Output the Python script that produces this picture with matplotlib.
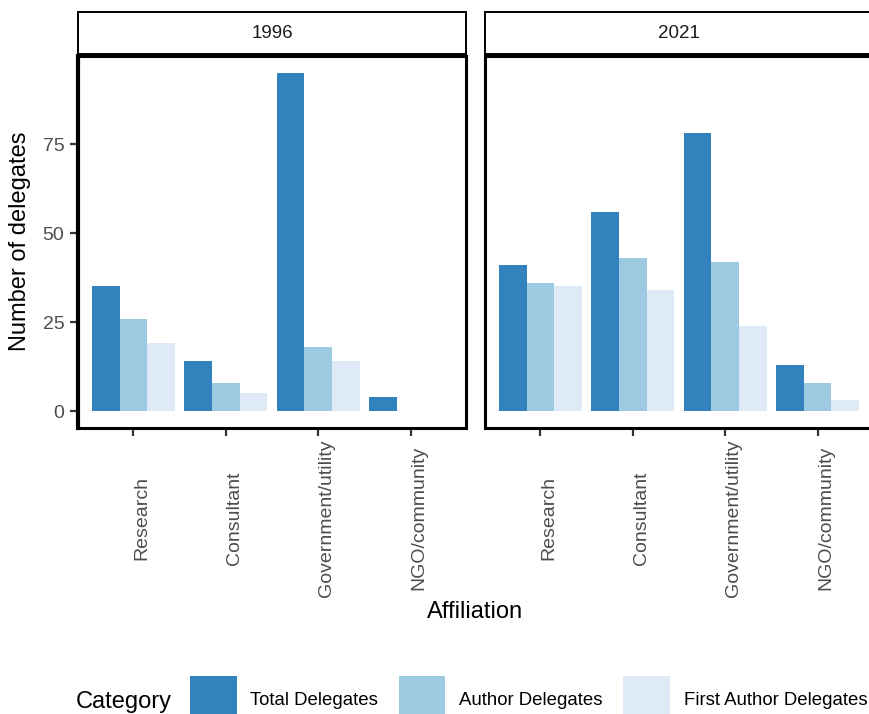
import numpy as np
import matplotlib
matplotlib.use("Agg")
import matplotlib.pyplot as plt

plt.rcParams['font.family'] = ['Liberation Sans', 'DejaVu Sans']

years = ['1996', '2021']
affiliations = ['Research', 'Consultant', 'Government/utility', 'NGO/community']
categories = ['Total Delegates', 'Author Delegates', 'First Author Delegates']
colors = ['#3182BD', '#9ECAE1', '#DEEBF7']

# values per year, per category, per affiliation
total_1996 = [35, 14, 95, 4]
author_1996 = [26, 8, 18, 0]
first_1996 = [19, 5, 14, 0]
total_2021 = [41, 56, 78, 13]
author_2021 = [36, 43, 42, 8]
first_2021 = [35, 34, 24, 3]

data = {
    '1996': [total_1996, author_1996, first_1996],
    '2021': [total_2021, author_2021, first_2021],
}

W, H = 870, 714
fig = plt.figure(figsize=(W / 100, H / 100), dpi=100)


def px(l, t, r, b):
    return [l / W, 1 - b / H, (r - l) / W, (b - t) / H]


panels = [(78, 466), (485, 873)]
x = np.arange(1, len(affiliations) + 1)
bw = 0.3

for i, (yr, (l, r)) in enumerate(zip(years, panels)):
    ax = fig.add_axes(px(l, 56, r, 428))
    for j, (cat, vals) in enumerate(zip(categories, data[yr])):
        ax.bar(x + (j - 1) * bw, vals, width=bw, color=colors[j], label=cat)
    ax.set_xlim(0.4, 4.6)
    ax.set_ylim(-4.75, 99.75)
    for s in ax.spines.values():
        s.set_linewidth(2.2)
        s.set_color('black')
    ax.set_xticks(x)
    ax.set_xticklabels(affiliations, rotation=90, ha='left', va='center')
    ax.tick_params(axis='x', length=5.8, width=1.6, color='#333333',
                   labelcolor='#4D4D4D', labelsize=14, pad=59)
    if i == 0:
        ax.spines['left'].set_linewidth(3)
        ax.set_yticks([0, 25, 50, 75])
        ax.tick_params(axis='y', length=5.8, width=1.6, color='#333333',
                       labelcolor='#4D4D4D', labelsize=14, pad=4)
        handles, labels = ax.get_legend_handles_labels()
    else:
        ax.set_yticks([])

    st = fig.add_axes(px(l, 12, r, 54))
    st.set_xticks([])
    st.set_yticks([])
    for s in st.spines.values():
        s.set_linewidth(1.4)
    st.text(0.5, 0.5, yr, ha='center', va='center', fontsize=13.5,
            color='#1A1A1A', transform=st.transAxes)

fig.text(20 / W, 1 - 241 / H, 'Number of delegates', rotation=90,
         ha='center', va='center', fontsize=17)
fig.text(475 / W, 1 - 612 / H, 'Affiliation', ha='center', va='center',
         fontsize=17)
fig.text(172 / W, 1 - 702 / H, 'Category', ha='right', va='center',
         fontsize=17)

fig.legend(handles, labels, ncol=3, loc='center left',
           bbox_to_anchor=(190 / W, 1 - 700 / H), frameon=False,
           fontsize=13.4, handlelength=2.5, handleheight=3.6,
           handletextpad=0.75, columnspacing=1.1, borderpad=0,
           borderaxespad=0)

fig.savefig('out.png', dpi=100)
